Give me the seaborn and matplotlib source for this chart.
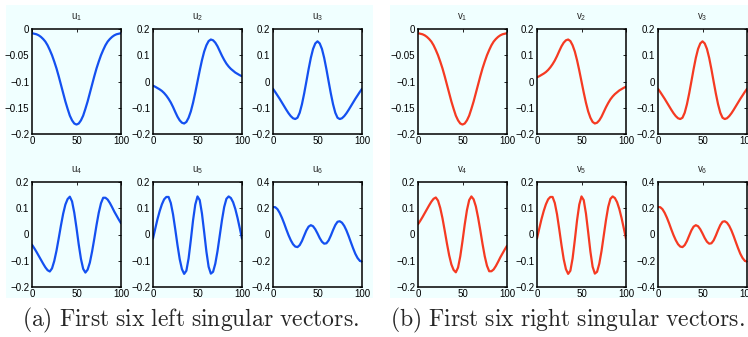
import numpy as np
import pandas as pd
import matplotlib
matplotlib.use("Agg")
import matplotlib.pyplot as plt
from matplotlib.patches import Rectangle
import seaborn as sns

# sample positions 0, 2.5, ..., 100
x = np.arange(0, 100.01, 2.5)

u1 = [-0.008, -0.009, -0.010, -0.012, -0.015, -0.019, -0.024, -0.031, -0.040, -0.050,
      -0.062, -0.075, -0.090, -0.106, -0.122, -0.138, -0.152, -0.165, -0.174, -0.180,
      -0.182, -0.180, -0.174, -0.165, -0.152, -0.138, -0.122, -0.106, -0.090, -0.075,
      -0.062, -0.050, -0.040, -0.031, -0.024, -0.019, -0.015, -0.012, -0.010, -0.009, -0.008]
u2 = [-0.016, -0.020, -0.025, -0.030, -0.036, -0.044, -0.054, -0.066, -0.080, -0.097,
      -0.116, -0.134, -0.148, -0.157, -0.160, -0.154, -0.138, -0.114, -0.081, -0.042,
      0.000, 0.042, 0.081, 0.114, 0.138, 0.154, 0.160, 0.157, 0.148, 0.134,
      0.116, 0.098, 0.082, 0.068, 0.057, 0.048, 0.041, 0.034, 0.029, 0.024, 0.020]
u3 = [-0.028, -0.040, -0.053, -0.066, -0.080, -0.094, -0.108, -0.121, -0.132, -0.140,
      -0.143, -0.138, -0.119, -0.087, -0.046, 0.000, 0.047, 0.090, 0.124, 0.145,
      0.153, 0.145, 0.124, 0.090, 0.047, 0.000, -0.046, -0.087, -0.119, -0.138,
      -0.143, -0.140, -0.132, -0.121, -0.108, -0.094, -0.080, -0.066, -0.053, -0.040, -0.028]
u4 = [-0.039, -0.052, -0.066, -0.081, -0.096, -0.111, -0.125, -0.136, -0.141, -0.129,
      -0.101, -0.062, -0.015, 0.034, 0.079, 0.114, 0.135, 0.144, 0.126, 0.083,
      0.025, -0.038, -0.093, -0.131, -0.145, -0.134, -0.107, -0.065, -0.016, 0.036,
      0.083, 0.119, 0.140, 0.140, 0.133, 0.120, 0.104, 0.087, 0.072, 0.057, 0.043]
u5 = [-0.015, 0.022, 0.058, 0.089, 0.115, 0.134, 0.143, 0.143, 0.120, 0.077,
      0.020, -0.040, -0.094, -0.132, -0.150, -0.138, -0.091, -0.021, 0.054, 0.114,
      0.145, 0.131, 0.080, 0.009, -0.065, -0.123, -0.149, -0.142, -0.111, -0.063,
      -0.004, 0.055, 0.105, 0.136, 0.145, 0.139, 0.123, 0.097, 0.063, 0.024, -0.016]
u6 = [0.209, 0.208, 0.193, 0.165, 0.128, 0.085, 0.038, -0.006, -0.044, -0.074,
      -0.092, -0.096, -0.081, -0.050, -0.009, 0.031, 0.060, 0.071, 0.063, 0.040,
      0.008, -0.027, -0.055, -0.070, -0.067, -0.045, -0.008, 0.034, 0.072, 0.097,
      0.101, 0.090, 0.066, 0.031, -0.012, -0.059, -0.105, -0.147, -0.179, -0.200, -0.207]

v1 = [-0.008, -0.009, -0.010, -0.012, -0.015, -0.019, -0.024, -0.031, -0.040, -0.050,
      -0.062, -0.075, -0.090, -0.106, -0.122, -0.138, -0.152, -0.165, -0.174, -0.180,
      -0.182, -0.180, -0.174, -0.165, -0.152, -0.138, -0.122, -0.106, -0.090, -0.075,
      -0.062, -0.050, -0.040, -0.031, -0.024, -0.019, -0.015, -0.012, -0.010, -0.009, -0.008]
v2 = [0.016, 0.020, 0.025, 0.030, 0.036, 0.044, 0.054, 0.066, 0.080, 0.097,
      0.116, 0.134, 0.148, 0.157, 0.160, 0.154, 0.138, 0.114, 0.081, 0.042,
      0.000, -0.042, -0.081, -0.114, -0.138, -0.154, -0.160, -0.157, -0.148, -0.134,
      -0.116, -0.098, -0.082, -0.068, -0.057, -0.048, -0.041, -0.034, -0.029, -0.024, -0.020]
v3 = [-0.028, -0.040, -0.053, -0.066, -0.080, -0.094, -0.108, -0.121, -0.132, -0.140,
      -0.143, -0.138, -0.119, -0.087, -0.046, 0.000, 0.047, 0.090, 0.124, 0.145,
      0.153, 0.145, 0.124, 0.090, 0.047, 0.000, -0.046, -0.087, -0.119, -0.138,
      -0.143, -0.140, -0.132, -0.121, -0.108, -0.094, -0.080, -0.066, -0.053, -0.040, -0.028]
v4 = [0.039, 0.052, 0.066, 0.081, 0.096, 0.111, 0.125, 0.136, 0.141, 0.129,
      0.101, 0.062, 0.015, -0.034, -0.079, -0.114, -0.135, -0.144, -0.126, -0.083,
      -0.025, 0.038, 0.093, 0.131, 0.145, 0.134, 0.107, 0.065, 0.016, -0.036,
      -0.083, -0.119, -0.140, -0.140, -0.133, -0.120, -0.104, -0.087, -0.072, -0.057, -0.043]
v5 = [-0.015, 0.022, 0.058, 0.089, 0.115, 0.134, 0.143, 0.143, 0.120, 0.077,
      0.020, -0.040, -0.094, -0.132, -0.150, -0.138, -0.091, -0.021, 0.054, 0.114,
      0.145, 0.131, 0.080, 0.009, -0.065, -0.123, -0.149, -0.142, -0.111, -0.063,
      -0.004, 0.055, 0.105, 0.136, 0.145, 0.139, 0.123, 0.097, 0.063, 0.024, -0.016]
v6 = [0.209, 0.208, 0.193, 0.165, 0.128, 0.085, 0.038, -0.006, -0.044, -0.074,
      -0.092, -0.096, -0.081, -0.050, -0.009, 0.031, 0.060, 0.071, 0.063, 0.040,
      0.008, -0.027, -0.055, -0.070, -0.067, -0.045, -0.008, 0.034, 0.072, 0.097,
      0.101, 0.090, 0.066, 0.031, -0.012, -0.059, -0.105, -0.147, -0.179, -0.200, -0.207]

left_titles = ["u_1", "u_2", "u_3", "u_4", "u_5", "u_6"]
right_titles = ["v_1", "v_2", "v_3", "v_4", "v_5", "v_6"]
captions = ["(a) First six left singular vectors.", "(b) First six right singular vectors."]

y_ticks = [
    [-0.2, -0.15, -0.1, -0.05, 0],
    [-0.2, -0.1, 0, 0.1, 0.2],
    [-0.2, -0.1, 0, 0.1, 0.2],
    [-0.2, -0.1, 0, 0.1, 0.2],
    [-0.2, -0.1, 0, 0.1, 0.2],
    [-0.4, -0.2, 0, 0.2, 0.4],
]
x_ticks = [0, 50, 100]

sns.set_theme(style="white")
plt.rcParams["font.family"] = ["Liberation Sans", "DejaVu Sans"]
plt.rcParams["mathtext.fontset"] = "cm"
plt.rcParams["axes.unicode_minus"] = True

W, H = 748, 337
fig = plt.figure(figsize=(W / 100, H / 100), dpi=100)
fig.patch.set_facecolor("white")

panel_bg = "#f0ffff"
blue = "#1450f0"
red = "#f53a22"


def fx(px):
    return px / W


def fy(py):
    return 1 - py / H


# shaded panels
for x0, x1 in [(6, 373), (390, 748)]:
    fig.add_artist(Rectangle((fx(x0), fy(298)), fx(x1 - x0), (298 - 5) / H,
                             transform=fig.transFigure, facecolor=panel_bg,
                             edgecolor="none", zorder=-5))

col_lefts = [[32, 153, 273], [418, 537, 658]]
row_tops = [29, 182]
ax_w, ax_h = 89, 105


def fmt(v):
    s = f"{v:g}"
    return s.replace("-", "\u2212")


panels = [
    (left_titles, [u1, u2, u3, u4, u5, u6], blue, col_lefts[0]),
    (right_titles, [v1, v2, v3, v4, v5, v6], red, col_lefts[1]),
]

for titles, series, color, lefts in panels:
    for k in range(6):
        r, c = divmod(k, 3)
        top = row_tops[r]
        ax = fig.add_axes([fx(lefts[c]), fy(top + ax_h), ax_w / W, ax_h / H])
        ax.set_facecolor(panel_bg)
        df = pd.DataFrame({"x": x, "y": series[k]})
        sns.lineplot(data=df, x="x", y="y", ax=ax, color=color, linewidth=1.6)
        yt = y_ticks[k]
        ax.set_xlim(0, 100)
        ax.set_ylim(yt[0], yt[-1])
        ax.set_xticks(x_ticks)
        ax.set_xticklabels([fmt(t) for t in x_ticks])
        ax.set_yticks(yt)
        ax.set_yticklabels([fmt(t) for t in yt])
        ax.set_xlabel("")
        ax.set_ylabel("")
        ax.tick_params(direction="in", top=True, right=True, length=2.5, width=0.6,
                       labelsize=7, colors="black", pad=2)
        ax.tick_params(axis="x", pad=1.5)
        for sp in ax.spines.values():
            sp.set_color("black")
            sp.set_linewidth(1.1)
            sp.set_visible(True)
        ax.set_title(r"$\mathregular{" + titles[k] + "}$", fontsize=7, pad=7)

# captions under each panel
for cx, text in [(190, captions[0]), (567, captions[1])]:
    math_text = r"$\mathrm{" + text.replace(" ", r"\ ") + "}$"
    fig.text(fx(cx), fy(320), math_text, ha="center", va="center", fontsize=17)

fig.savefig("out.png", dpi=100, facecolor="white")
